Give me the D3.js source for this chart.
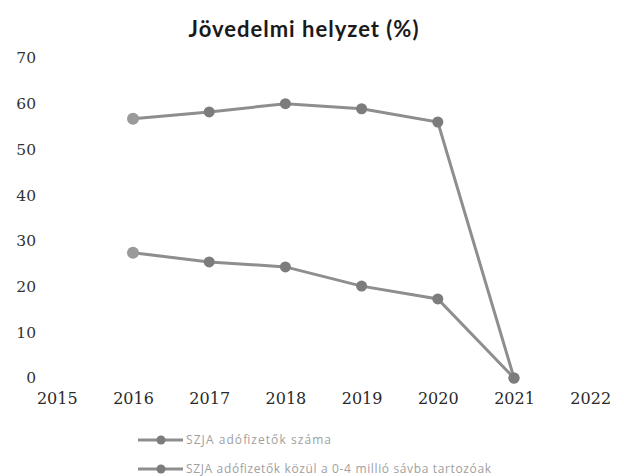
<!DOCTYPE html>
<html>
<head>
<meta charset="utf-8">
<script src="https://cdn.jsdelivr.net/npm/d3@7"></script>
<style>
  html, body { margin: 0; padding: 0; background: #fff; }
  svg { display: block; }
</style>
</head>
<body>
<script>
const years = [2016, 2017, 2018, 2019, 2020, 2021];
const seriesNames = ["SZJA adófizetők száma", "SZJA adófizetők közül a 0-4 millió sávba tartozóak"];
const series1 = [56.7, 58.2, 60.0, 58.9, 56.0, 0];
const series2 = [27.4, 25.4, 24.3, 20.1, 17.3, 0];
const xTicks = [2015, 2016, 2017, 2018, 2019, 2020, 2021, 2022];
const yTicks = [0, 10, 20, 30, 40, 50, 60, 70];
const title = "Jövedelmi helyzet (%)";

const W = 624, H = 476;
const svg = d3.select("body").append("svg").attr("width", W).attr("height", H);

const x = d3.scaleLinear().domain([2015, 2022]).range([56.8, 590.2]);
const y = d3.scaleLinear().domain([0, 70]).range([378, 58]);

svg.append("text")
  .attr("x", 304).attr("y", 37)
  .attr("text-anchor", "middle")
  .style("font-family", "Lato, 'Open Sans', sans-serif")
  .style("font-weight", "bold")
  .style("font-size", "22px")
  .style("letter-spacing", "1px")
  .style("fill", "#1a1a1a")
  .text(title);

const tickFont = "'DejaVu Serif', serif";

const yAxis = svg.append("g")
  .attr("transform", "translate(44,0)")
  .call(d3.axisLeft(y).tickValues(yTicks).tickSize(0).tickPadding(8).tickFormat(d3.format("d")));
yAxis.select(".domain").remove();
yAxis.selectAll("text")
  .style("font-family", tickFont).style("font-size", "15.5px").style("fill", "#333");

const xAxis = svg.append("g")
  .attr("transform", "translate(0,378)")
  .call(d3.axisBottom(x).tickValues(xTicks).tickSize(0).tickPadding(15).tickFormat(d3.format("d")));
xAxis.select(".domain").remove();
xAxis.selectAll("text")
  .style("font-family", tickFont).style("font-size", "16px").style("fill", "#2a2a2a");

const lineGen = d3.line().x((d, i) => x(years[i])).y(d => y(d));
const lineColor = "#8e8e8e";
const markerColor = "#7c7c7c";

[series2, series1].forEach(s => {
  svg.append("path")
    .datum(s)
    .attr("d", lineGen)
    .attr("fill", "none")
    .attr("stroke", lineColor)
    .attr("stroke-width", 3);
  svg.selectAll(null)
    .data(s)
    .enter().append("circle")
    .attr("cx", (d, i) => x(years[i]))
    .attr("cy", d => y(d))
    .attr("r", (d, i) => i === 0 ? 6 : 5.5)
    .attr("fill", (d, i) => i === 0 ? "#9a9a9a" : markerColor);
});

// legend
const legendRows = [440, 469];
const legendWidths = [145, 305];
seriesNames.forEach((name, i) => {
  const g = svg.append("g").attr("transform", `translate(0,${legendRows[i]})`);
  g.append("line").attr("x1", 138).attr("x2", 183).attr("y1", 0).attr("y2", 0)
    .attr("stroke", lineColor).attr("stroke-width", 3);
  g.append("circle").attr("cx", 161).attr("cy", 0).attr("r", 4.5).attr("fill", markerColor);
  g.append("text").attr("x", 186).attr("y", 4)
    .attr("textLength", legendWidths[i])
    .attr("lengthAdjust", "spacing")
    .style("font-family", "'Open Sans', sans-serif")
    .style("font-size", "12px")
    .style("fill", "#a0a0a0")
    .text(name);
});
</script>
</body>
</html>
